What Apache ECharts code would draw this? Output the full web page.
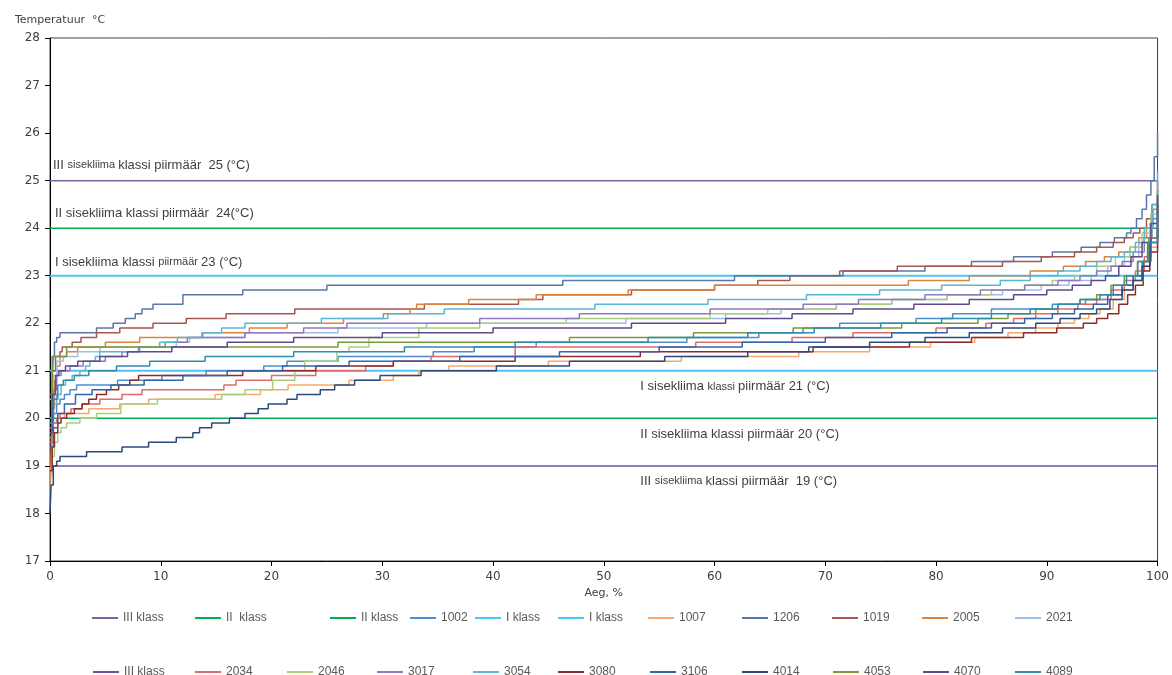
<!DOCTYPE html>
<html>
<head>
<meta charset="utf-8">
<title>Temperatuur</title>
<script src="https://cdn.jsdelivr.net/npm/echarts@6/dist/echarts.min.js"></script>
<style>
  html, body { margin: 0; padding: 0; background: #fff; }
  #chart { width: 1172px; height: 675px; }
</style>
</head>
<body>
<div id="chart"></div>
<script>
// piirmäärad (°C)
const limitIII = [19, 25];
const limitII = [20, 24];
const limitI = [21, 23];

// ruumide temperatuuri kestuskõverad: [aeg %, temperatuur °C]
const r1002 = [[0,19.9],[0.3,20.1],[0.6,20.3],[0.9,20.4],[1.3,20.5],[1.8,20.6],[2.4,20.7],[6.1,20.8],[10.1,20.9],[14.1,21.0],[19.3,21.1],[21.4,21.2],[26.0,21.3],[34.6,21.4],[38.3,21.5],[43.9,21.6],[57.5,21.7],[64.0,21.8],[68.0,21.9],[71.3,22.0],[78.2,22.1],[81.5,22.2],[85.0,22.3],[90.5,22.4],[93.5,22.5],[95.5,22.6],[96.8,22.8],[97.8,23.0],[98.6,23.3],[99.3,23.8],[100,24.4]];
const r1007 = [[0,19.6],[0.3,19.9],[0.7,20.0],[1.3,20.1],[3.5,20.2],[6.3,20.3],[8.9,20.4],[14.9,20.5],[19.0,20.6],[21.5,20.7],[27.0,20.8],[31.0,20.9],[33.3,21.0],[36.0,21.1],[45.0,21.2],[57.0,21.3],[67.6,21.4],[74.0,21.5],[79.5,21.6],[83.5,21.7],[86.5,21.8],[89.0,21.9],[91.0,22.0],[92.5,22.1],[93.8,22.2],[94.8,22.3],[96.0,22.5],[97.0,22.7],[97.8,22.9],[98.6,23.2],[99.3,23.6],[100,24.2]];
const r1206 = [[0,20.0],[0.2,21.3],[0.4,21.6],[0.6,21.7],[0.9,21.8],[4.2,21.9],[5.7,22.0],[6.8,22.1],[7.7,22.2],[8.3,22.3],[9.3,22.4],[12.0,22.6],[17.4,22.7],[25.0,22.8],[46.3,22.9],[61.8,23.0],[71.6,23.1],[79.0,23.2],[83.2,23.3],[87.0,23.4],[90.5,23.5],[93.1,23.6],[94.8,23.7],[96.1,23.8],[97.2,23.9],[97.6,24.0],[98.1,24.2],[98.6,24.4],[99.0,24.7],[99.4,25.0],[99.7,25.5],[100,26.0]];
const r1019 = [[0,20.5],[0.2,21.0],[0.5,21.3],[0.9,21.4],[1.1,21.5],[2.0,21.6],[2.8,21.7],[4.2,21.8],[6.3,21.9],[9.3,22.0],[12.3,22.1],[15.9,22.2],[22.1,22.3],[33.8,22.4],[42.3,22.5],[44.5,22.6],[52.5,22.7],[60.0,22.8],[63.9,22.9],[66.8,23.0],[71.3,23.1],[76.5,23.2],[86.0,23.3],[89.5,23.4],[92.5,23.5],[94.5,23.6],[96.0,23.7],[97.0,23.8],[97.8,23.9],[98.4,24.0],[99.0,24.2],[99.5,24.5],[100,25.0]];
const r2005 = [[0,18.1],[0.1,19.3],[0.2,20.2],[0.4,20.8],[0.6,21.1],[0.9,21.3],[1.5,21.4],[2.5,21.5],[5.0,21.6],[8.1,21.7],[13.8,21.8],[18.0,21.9],[21.4,22.0],[26.5,22.1],[30.1,22.2],[32.5,22.3],[33.1,22.4],[37.8,22.5],[43.9,22.6],[52.2,22.7],[60.0,22.8],[77.5,22.9],[83.0,23.0],[88.5,23.1],[91.5,23.2],[93.5,23.3],[95.2,23.4],[96.5,23.5],[97.5,23.6],[98.3,23.8],[99.0,24.0],[99.6,24.4],[100,24.8]];
const r2021 = [[0,20.4],[0.3,20.9],[0.6,21.2],[1.2,21.3],[2.5,21.4],[4.5,21.5],[11.4,21.6],[12.6,21.7],[17.6,21.8],[26.0,21.9],[34.0,22.0],[52.0,22.1],[61.0,22.2],[66.0,22.3],[71.0,22.4],[76.0,22.5],[81.0,22.6],[86.0,22.7],[89.5,22.8],[92.0,22.9],[94.0,23.0],[95.5,23.2],[97.0,23.4],[98.3,23.7],[99.3,24.1],[100,24.6]];
const r2034 = [[0,19.5],[0.3,19.9],[0.6,20.0],[0.9,20.1],[1.9,20.2],[2.9,20.3],[4.5,20.4],[6.5,20.5],[8.3,20.6],[15.7,20.7],[16.8,20.8],[20.0,20.9],[24.0,21.0],[28.5,21.1],[31.0,21.2],[34.4,21.3],[42.0,21.5],[58.3,21.6],[67.0,21.7],[72.5,21.8],[80.0,21.9],[84.5,22.0],[87.0,22.1],[89.0,22.2],[91.0,22.3],[92.8,22.4],[94.5,22.5],[95.8,22.7],[97.0,22.9],[98.0,23.1],[98.8,23.4],[99.4,23.8],[100,24.3]];
const r2046 = [[0,18.8],[0.2,19.2],[0.4,19.5],[0.7,19.7],[1.0,19.8],[1.5,19.9],[2.7,20.0],[4.2,20.1],[6.4,20.3],[9.7,20.4],[15.5,20.5],[17.6,20.6],[20.1,20.8],[22.1,21.0],[23.0,21.2],[25.9,21.4],[27.0,21.5],[28.8,21.7],[33.3,21.9],[38.8,22.0],[46.6,22.1],[59.6,22.2],[64.8,22.3],[71.0,22.4],[76.0,22.5],[81.0,22.6],[85.0,22.7],[88.0,22.8],[90.5,22.9],[92.5,23.0],[94.5,23.2],[96.2,23.4],[97.5,23.6],[98.6,23.9],[99.4,24.3],[100,24.8]];
const r3017 = [[0,19.8],[0.3,20.6],[0.6,20.9],[1.0,21.0],[1.8,21.1],[3.0,21.2],[5.0,21.3],[6.5,21.4],[8.0,21.5],[10.4,21.6],[12.4,21.7],[17.6,21.8],[22.9,21.9],[26.8,22.0],[38.8,22.1],[47.8,22.2],[59.6,22.3],[68.0,22.4],[73.0,22.5],[79.0,22.6],[84.0,22.7],[88.0,22.8],[91.0,22.9],[93.0,23.0],[94.5,23.1],[95.8,23.2],[96.8,23.3],[97.8,23.5],[98.8,23.8],[99.5,24.2],[100,24.8]];
const r3054 = [[0,20.0],[0.3,20.3],[0.6,20.5],[1.0,20.7],[1.4,20.8],[2.0,20.9],[2.7,21.0],[3.2,21.1],[3.6,21.2],[4.1,21.3],[4.5,21.4],[8.1,21.5],[9.9,21.6],[11.5,21.7],[13.7,21.8],[15.5,21.9],[17.6,22.0],[24.5,22.1],[30.5,22.2],[35.6,22.3],[49.2,22.4],[59.4,22.5],[68.3,22.6],[74.9,22.7],[80.5,22.8],[85.8,22.9],[88.5,23.0],[91.0,23.1],[93.0,23.2],[94.5,23.3],[95.8,23.4],[97.0,23.5],[98.0,23.7],[98.8,24.0],[99.5,24.5],[100,25.2]];
const r3080 = [[0,18.9],[0.2,19.4],[0.4,19.7],[0.7,19.9],[1.0,20.0],[1.5,20.1],[2.2,20.2],[2.9,20.3],[3.5,20.4],[4.2,20.5],[5.1,20.6],[6.2,20.7],[7.2,20.8],[8.0,20.9],[17.4,21.0],[24.0,21.1],[31.0,21.2],[42.0,21.3],[53.3,21.4],[68.9,21.5],[77.6,21.6],[83.2,21.7],[87.9,21.8],[90.9,21.9],[93.3,22.0],[94.5,22.1],[95.5,22.2],[96.5,22.4],[97.3,22.6],[98.0,22.8],[98.7,23.1],[99.3,23.5],[100,24.0]];
const r3106 = [[0,19.4],[0.3,19.8],[0.7,20.1],[1.3,20.3],[2.3,20.5],[3.8,20.6],[5.5,20.7],[8.5,20.8],[12.0,20.9],[16.0,21.0],[21.0,21.1],[27.0,21.2],[37.0,21.3],[46.0,21.4],[55.0,21.5],[62.5,21.6],[70.0,21.7],[76.0,21.8],[81.0,21.9],[85.0,22.0],[88.0,22.1],[90.5,22.2],[92.5,22.3],[94.2,22.4],[95.5,22.6],[96.8,22.8],[97.8,23.0],[98.7,23.3],[99.4,23.8],[100,24.4]];
const r4014 = [[0,18.0],[0.1,18.6],[0.3,19.0],[0.6,19.1],[0.9,19.2],[3.3,19.3],[6.5,19.4],[8.9,19.5],[11.4,19.6],[12.9,19.7],[13.5,19.8],[14.6,19.9],[16.2,20.0],[17.6,20.1],[18.8,20.2],[19.7,20.3],[21.4,20.4],[22.3,20.5],[24.4,20.6],[25.7,20.7],[27.5,20.8],[29.8,20.9],[33.5,21.0],[40.3,21.1],[46.9,21.2],[55.5,21.3],[63.0,21.4],[68.5,21.5],[74.0,21.6],[79.0,21.7],[83.0,21.8],[86.0,21.9],[89.0,22.0],[91.2,22.1],[93.0,22.2],[94.5,22.3],[95.7,22.5],[96.8,22.7],[97.8,22.9],[98.6,23.2],[99.3,23.7],[100,24.5]];
const r4053 = [[0,19.6],[0.2,20.8],[0.3,21.3],[1.5,21.5],[26.0,21.6],[46.9,21.7],[58.1,21.8],[67.1,21.9],[76.9,22.0],[83.8,22.1],[86.5,22.2],[89.0,22.3],[91.0,22.4],[93.0,22.5],[94.5,22.6],[95.8,22.8],[97.0,23.0],[98.2,23.3],[99.2,23.8],[100,24.5]];
const r4070 = [[0,19.7],[0.2,20.5],[0.5,20.9],[0.8,21.0],[1.4,21.1],[2.5,21.2],[4.5,21.3],[7.0,21.4],[11.0,21.5],[16.0,21.6],[22.0,21.7],[30.0,21.8],[40.0,21.9],[52.5,22.0],[61.0,22.1],[67.0,22.2],[72.5,22.3],[78.0,22.4],[83.0,22.5],[87.0,22.6],[90.0,22.7],[92.3,22.8],[94.0,22.9],[95.3,23.0],[96.5,23.2],[97.6,23.4],[98.6,23.7],[99.4,24.1],[100,24.7]];
const r4089 = [[0,19.9],[0.3,20.4],[0.7,20.7],[1.2,20.8],[2.2,20.9],[3.5,21.0],[6.0,21.1],[9.0,21.2],[14.0,21.3],[22.0,21.4],[32.0,21.5],[42.0,21.6],[54.0,21.7],[63.0,21.8],[69.0,21.9],[75.0,22.0],[80.5,22.1],[85.0,22.2],[88.5,22.3],[91.0,22.4],[93.0,22.5],[94.8,22.6],[96.0,22.8],[97.2,23.0],[98.2,23.3],[99.1,23.7],[100,24.3]];

const chart = echarts.init(document.getElementById("chart"));

const refLine = (name, level, color, width) => ({
  name: name,
  type: "line",
  data: [[0, level], [100, level]],
  showSymbol: false,
  silent: true,
  lineStyle: { color: color, width: width },
  itemStyle: { color: color },
  z: 2,
});

const room = (name, data, color) => ({
  name: name,
  type: "line",
  step: "end",
  data: data,
  showSymbol: false,
  lineStyle: { color: color, width: 1.5 },
  itemStyle: { color: color },
  z: 3,
});

// järjekord nagu legendis
const series = [
  refLine("III klass", limitIII[1], "#8064A2", 1.5),
  refLine("II  klass", limitII[1], "#00B050", 1.5),
  refLine("II klass", limitII[0], "#00B050", 1.5),
  room("1002", r1002, "#4A90D0"),
  refLine("I klass", limitI[1], "#4CC4F4", 2),
  refLine("I klass", limitI[0], "#4CC4F4", 2),
  room("1007", r1007, "#F7A86A"),
  room("1206", r1206, "#5A77A6"),
  room("1019", r1019, "#A85650"),
  room("2005", r2005, "#D9853E"),
  room("2021", r2021, "#9DBEE6"),
  refLine("III klass", limitIII[0], "#7050A0", 1.5),
  room("2034", r2034, "#E06A6A"),
  room("2046", r2046, "#A8CF7A"),
  room("3017", r3017, "#9178BE"),
  room("3054", r3054, "#59B7D6"),
  room("3080", r3080, "#8E2B2B"),
  room("3106", r3106, "#3464AA"),
  room("4014", r4014, "#2B4A7E"),
  room("4053", r4053, "#7A9A3A"),
  room("4070", r4070, "#5F4A8B"),
  room("4089", r4089, "#2E8CB0"),
];

// legend: kaks rida, igal üksusel oma koht
const legendRow1 = ["III klass", "II  klass", "II klass", "1002", "I klass", "I klass", "1007", "1206", "1019", "2005", "2021"];
const legendRow2 = ["III klass", "2034", "2046", "3017", "3054", "3080", "3106", "4014", "4053", "4070", "4089"];
const row1Left = [87, 190, 325, 405, 470, 553, 643, 737, 827, 917, 1010];
const row2Left = [88, 190, 282, 372, 468, 553, 645, 737, 828, 918, 1010];
const row2Colors = { "III klass": "#7050A0" };

const legends = [];
legendRow1.forEach((n, i) => legends.push({ name: n, left: row1Left[i], top: 607 }));
legendRow2.forEach((n, i) => legends.push({ name: n, left: row2Left[i], top: 661, color: row2Colors[n] }));

const legend = legends.map((l) => ({
  data: [l.color ? { name: l.name, itemStyle: { color: l.color } } : l.name],
  left: l.left,
  top: l.top,
  icon: "rect",
  itemWidth: 26,
  itemHeight: 2,
  itemGap: 0,
  selectedMode: false,
  textStyle: { color: "#595959", fontSize: 12, fontFamily: "Liberation Sans" },
}));

const axisFont = { color: "#404040", fontSize: 12, fontFamily: "DejaVu Sans" };

const option = {
  animation: false,
  backgroundColor: "#fff",
  title: {
    text: "Temperatuur  °C",
    left: 10,
    top: 10,
    textStyle: { fontSize: 11, fontWeight: "normal", color: "#404040", fontFamily: "DejaVu Sans" },
  },
  legend: legend,
  grid: {
    left: 50,
    right: 14,
    top: 38,
    bottom: 114,
    show: true,
    borderColor: "#404040",
    borderWidth: 1,
  },
  xAxis: {
    type: "value",
    min: 0,
    max: 100,
    interval: 10,
    name: "Aeg, %",
    nameLocation: "middle",
    nameGap: 27,
    nameTextStyle: { color: "#404040", fontSize: 11, fontFamily: "DejaVu Sans" },
    axisLine: { lineStyle: { color: "#000", width: 1 } },
    axisTick: { show: true, length: 5, lineStyle: { color: "#000" } },
    axisLabel: Object.assign({ margin: 10 }, axisFont),
    splitLine: { show: false },
  },
  yAxis: {
    type: "value",
    min: 17,
    max: 28,
    interval: 1,
    axisLine: { show: true, lineStyle: { color: "#000", width: 1 } },
    axisTick: { show: true, length: 5, lineStyle: { color: "#000" } },
    axisLabel: Object.assign({ margin: 10 }, axisFont),
    splitLine: { show: false },
  },
  series: series,
};

chart.setOption(option);

// piirmäärade tekstid (rich text, osa sõnu väiksemas kirjas)
const rich = {
  n: { fontSize: 13, fontFamily: "Liberation Sans", fill: "#404040" },
  s: { fontSize: 11, fontFamily: "Liberation Sans", fill: "#404040" },
};
const limitLabels = [
  { at: [0.27, 25.33], text: "{n|III }{s|sisekliima }{n|klassi piirmäär  25 (°C)}" },
  { at: [0.45, 24.32], text: "{n|II sisekliima klassi piirmäär  24(°C)}" },
  { at: [0.45, 23.29], text: "{n|I sisekliima klassi }{s|piirmäär }{n|23 (°C)}" },
  { at: [53.3, 20.67], text: "{n|I sisekliima }{s|klassi }{n|piirmäär 21 (°C)}" },
  { at: [53.3, 19.67], text: "{n|II sisekliima klassi piirmäär 20 (°C)}" },
  { at: [53.3, 18.68], text: "{n|III }{s|sisekliima }{n|klassi piirmäär  19 (°C)}" },
];
chart.setOption({
  graphic: limitLabels.map((l) => {
    const p = chart.convertToPixel({ xAxisIndex: 0, yAxisIndex: 0 }, l.at);
    return {
      type: "text",
      x: p[0],
      y: p[1],
      z: 10,
      style: { text: l.text, rich: rich, fill: "#404040", verticalAlign: "middle", align: "left" },
    };
  }),
});

window.addEventListener("resize", () => chart.resize());
</script>
</body>
</html>
